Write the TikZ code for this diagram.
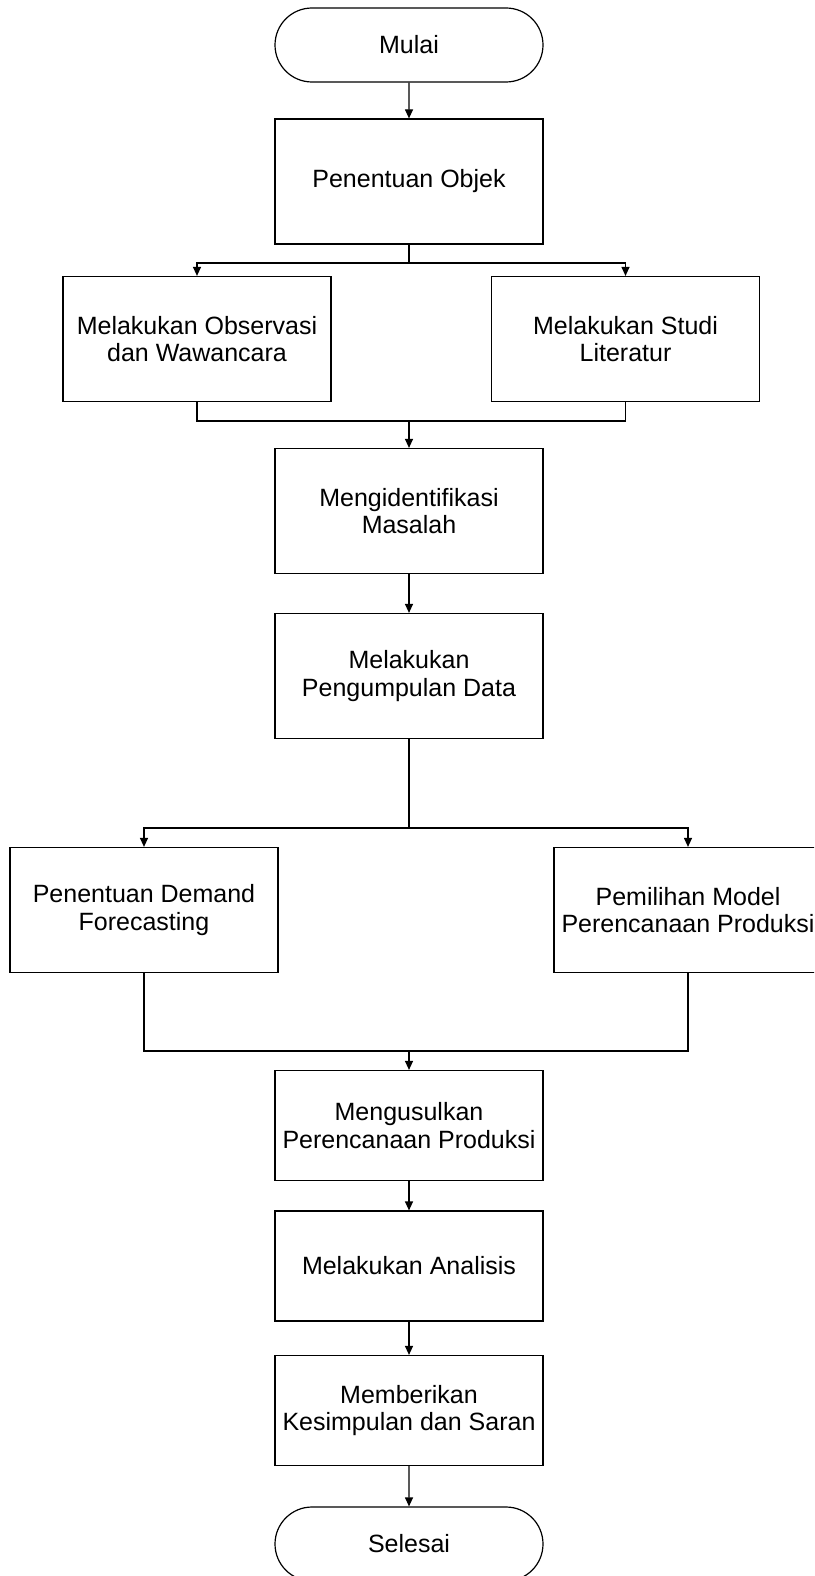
\documentclass[tikz,border=0pt]{standalone}
\usepackage{fontspec}
\setmainfont{Liberation Sans}
\usetikzlibrary{shapes.misc,arrows.meta}
\begin{document}
\begin{tikzpicture}[x=1pt,y=-1pt,
  every node/.style={font=\fontsize{25}{27.5}\selectfont, align=center, line width=1.2pt, draw=black},
  procbox/.style={rectangle, minimum width=268pt, minimum height=125pt, inner sep=0pt},
  shortbox/.style={procbox, minimum height=110pt},
  termbox/.style={rounded rectangle, minimum width=268pt, minimum height=74pt, inner sep=0pt},
  conn/.style={line width=1.2pt},
  arr/.style={conn, -{Triangle[width=8pt,length=9pt]}}]
\useasboundingbox (0,0) rectangle (814,1576);
\clip (0,0) rectangle (814,1576);
\node[termbox] (start) at (409,45) {Mulai};
\node[procbox] (obj) at (409,181.5) {Penentuan Objek};
\node[procbox] (obs) at (197,339) {Melakukan Observasi\\dan Wawancara};
\node[procbox] (lit) at (625.5,339) {Melakukan Studi\\Literatur};
\node[procbox] (ident) at (409,511) {Mengidentifikasi\\Masalah};
\node[procbox] (data) at (409,676) {Melakukan\\Pengumpulan Data};
\node[procbox] (dem) at (144,910) {Penentuan Demand\\Forecasting};
\node[procbox] (model) at (688,910) {Pemilihan Model\\Perencanaan Produksi};
\node[shortbox] (usul) at (409,1125.5) {Mengusulkan\\Perencanaan Produksi};
\node[shortbox] (anal) at (409,1266) {Melakukan Analisis};
\node[shortbox] (simp) at (409,1410.5) {Memberikan\\Kesimpulan dan Saran};
\node[termbox] (end) at (409,1544) {Selesai};
\coordinate (b1) at (409,263);
\coordinate (j1) at (409,421);
\coordinate (b2) at (409,828);
\coordinate (j2) at (409,1051);
\draw[arr] (start) -- (obj);
\draw[conn] (obj) -- (b1);
\draw[arr] (b1) -| (obs.north);
\draw[arr] (b1) -| (lit.north);
\draw[conn] (obs.south) |- (j1);
\draw[conn] (lit.south) |- (j1);
\draw[arr] (j1) -- (ident);
\draw[arr] (ident) -- (data);
\draw[conn] (data) -- (b2);
\draw[arr] (b2) -| (dem.north);
\draw[arr] (b2) -| (model.north);
\draw[conn] (dem.south) |- (j2);
\draw[conn] (model.south) |- (j2);
\draw[arr] (j2) -- (usul);
\draw[arr] (usul) -- (anal);
\draw[arr] (anal) -- (simp);
\draw[arr] (simp) -- (end);
\end{tikzpicture}
\end{document}
